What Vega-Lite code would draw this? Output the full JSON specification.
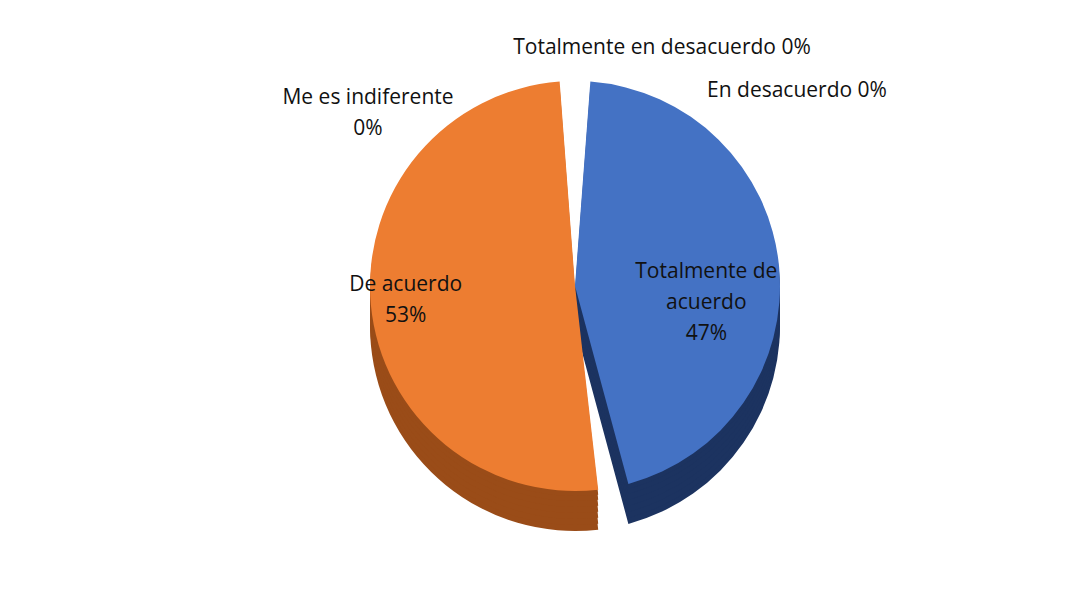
{
  "$schema": "https://vega.github.io/schema/vega-lite/v6.json",
  "width": 1074,
  "height": 612,
  "autosize": {"type": "fit", "contains": "padding"},
  "padding": {"left": 76, "right": 0, "top": 0, "bottom": 40},
  "background": "white",
  "config": {"view": {"stroke": null}, "font": "Open Sans"},
  "data": {
    "values": [
      {"categoria": "Totalmente de acuerdo", "porcentaje": 47, "orden": 1, "etiqueta": "Totalmente de\nacuerdo\n47%"},
      {"categoria": "De acuerdo", "porcentaje": 53, "orden": 2, "etiqueta": "De acuerdo\n53%"},
      {"categoria": "Me es indiferente", "porcentaje": 0, "orden": 3, "etiqueta": "Me es indiferente\n0%"},
      {"categoria": "En desacuerdo", "porcentaje": 0, "orden": 4, "etiqueta": "En desacuerdo 0%"},
      {"categoria": "Totalmente en desacuerdo", "porcentaje": 0, "orden": 5, "etiqueta": "Totalmente en desacuerdo 0%"}
    ]
  },
  "encoding": {
    "theta": {"field": "porcentaje", "type": "quantitative", "stack": true},
    "order": {"field": "orden", "type": "quantitative"}
  },
  "layer": [
    {"mark": {"type": "arc", "outerRadius": 205, "padAngle": 0.15, "yOffset": 40},
     "encoding": {"fill": {"field": "categoria", "type": "nominal", "legend": null,
       "scale": {"domain": ["Totalmente de acuerdo", "De acuerdo", "Me es indiferente", "En desacuerdo", "Totalmente en desacuerdo"],
                 "range": ["#1c3360", "#9a4c18", "#777777", "#b08400", "#3d6fa0"]}}}},
    {"mark": {"type": "arc", "outerRadius": 205, "padAngle": 0.15, "yOffset": 34},
     "encoding": {"fill": {"field": "categoria", "type": "nominal", "legend": null}}},
    {"mark": {"type": "arc", "outerRadius": 205, "padAngle": 0.15, "yOffset": 28},
     "encoding": {"fill": {"field": "categoria", "type": "nominal", "legend": null}}},
    {"mark": {"type": "arc", "outerRadius": 205, "padAngle": 0.15, "yOffset": 22},
     "encoding": {"fill": {"field": "categoria", "type": "nominal", "legend": null}}},
    {"mark": {"type": "arc", "outerRadius": 205, "padAngle": 0.15, "yOffset": 16},
     "encoding": {"fill": {"field": "categoria", "type": "nominal", "legend": null}}},
    {"mark": {"type": "arc", "outerRadius": 205, "padAngle": 0.15, "yOffset": 10},
     "encoding": {"fill": {"field": "categoria", "type": "nominal", "legend": null}}},
    {"mark": {"type": "arc", "outerRadius": 205, "padAngle": 0.15, "yOffset": 5},
     "encoding": {"fill": {"field": "categoria", "type": "nominal", "legend": null}}},
    {"mark": {"type": "arc", "outerRadius": 205, "padAngle": 0.15},
     "encoding": {"color": {"field": "categoria", "type": "nominal", "legend": null,
       "scale": {"domain": ["Totalmente de acuerdo", "De acuerdo", "Me es indiferente", "En desacuerdo", "Totalmente en desacuerdo"],
                 "range": ["#4472c4", "#ed7d31", "#a5a5a5", "#ffc000", "#5b9bd5"]}}}},
    {"transform": [{"filter": "datum.porcentaje > 0"}],
     "mark": {"type": "text", "radius": 150, "dx": -18, "dy": 0, "fontSize": 21, "lineHeight": 31, "lineBreak": "\n", "color": "#111111"},
     "encoding": {"text": {"condition": {"test": "datum.categoria == 'Totalmente de acuerdo'", "field": "etiqueta", "type": "nominal"}, "value": ""}}},
    {"transform": [{"filter": "datum.porcentaje > 0"}],
     "mark": {"type": "text", "radius": 150, "dx": -20, "dy": -15, "fontSize": 21, "lineHeight": 31, "lineBreak": "\n", "color": "#111111"},
     "encoding": {"text": {"condition": {"test": "datum.categoria == 'De acuerdo'", "field": "etiqueta", "type": "nominal"}, "value": ""}}},
    {"transform": [{"filter": "datum.categoria == 'Totalmente en desacuerdo'"}],
     "mark": {"type": "text", "radius": 205, "dx": 87, "dy": -33, "fontSize": 21, "color": "#111111"},
     "encoding": {"text": {"field": "etiqueta", "type": "nominal"}}},
    {"transform": [{"filter": "datum.categoria == 'En desacuerdo'"}],
     "mark": {"type": "text", "radius": 205, "dx": 222, "dy": 10, "fontSize": 21, "color": "#111111"},
     "encoding": {"text": {"field": "etiqueta", "type": "nominal"}}},
    {"transform": [{"filter": "datum.categoria == 'Me es indiferente'"}],
     "mark": {"type": "text", "radius": 205, "dx": -207, "dy": 17, "fontSize": 21, "lineHeight": 31, "lineBreak": "\n", "color": "#111111"},
     "encoding": {"text": {"field": "etiqueta", "type": "nominal"}}}
  ]
}
